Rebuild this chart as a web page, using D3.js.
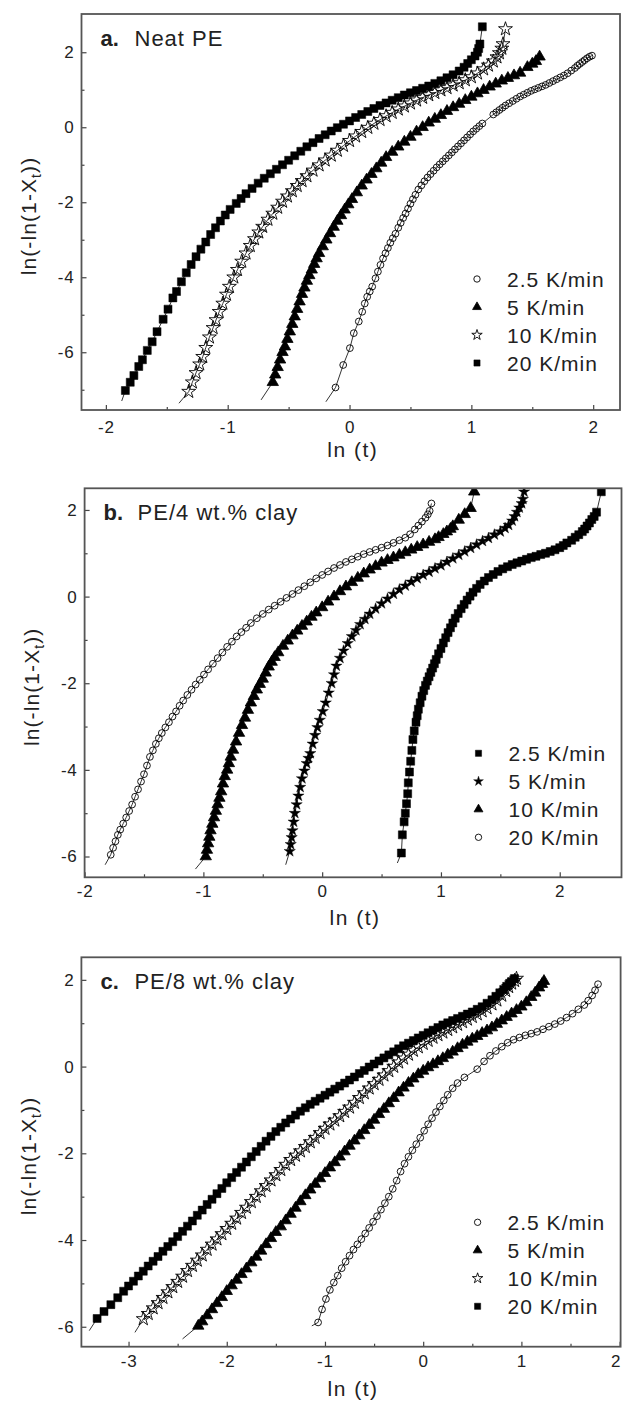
<!DOCTYPE html>
<html>
<head>
<meta charset="utf-8">
<script src="https://cdn.jsdelivr.net/npm/d3@7"></script>
<style>
  body { margin: 0; background: #fff; }
  text { font-family: Arial, "Liberation Sans", sans-serif; fill: #222; }
</style>
</head>
<body>
<svg id="chart" width="623" height="1405"></svg>
<script>
// Avrami plots, ln(-ln(1-Xt)) vs ln(t)

const rates = ["2.5 K/min", "5 K/min", "10 K/min", "20 K/min"];

// ---- a. Neat PE ----
const a25 = [[-0.115,-6.94],[-0.052,-6.34],[0.003,-5.89],[0.035,-5.49],[0.076,-5.18],[0.104,-4.92],[0.125,-4.7],[0.145,-4.52],[0.166,-4.38],[0.186,-4.25],[0.213,-4.03],[0.233,-3.85],[0.254,-3.67],[0.275,-3.5],[0.295,-3.36],[0.315,-3.22],[0.335,-3.08],[0.355,-2.96],[0.377,-2.84],[0.40,-2.68],[0.42,-2.55],[0.44,-2.42],[0.46,-2.3],[0.48,-2.17],[0.50,-2.04],[0.52,-1.92],[0.541,-1.8],[0.565,-1.66],[0.59,-1.55],[0.615,-1.44],[0.64,-1.34],[0.665,-1.25],[0.69,-1.16],[0.715,-1.07],[0.74,-0.99],[0.765,-0.91],[0.79,-0.83],[0.815,-0.75],[0.84,-0.67],[0.865,-0.59],[0.89,-0.51],[0.915,-0.43],[0.94,-0.35],[0.965,-0.27],[0.99,-0.19],[1.015,-0.11],[1.04,-0.04],[1.065,0.03],[1.09,0.1],[1.18,0.34],[1.205,0.4],[1.23,0.46],[1.255,0.52],[1.28,0.58],[1.31,0.64],[1.34,0.7],[1.37,0.76],[1.40,0.82],[1.43,0.87],[1.46,0.92],[1.49,0.97],[1.52,1.01],[1.55,1.05],[1.58,1.09],[1.61,1.13],[1.64,1.18],[1.67,1.23],[1.70,1.28],[1.73,1.33],[1.76,1.38],[1.79,1.44],[1.82,1.51],[1.85,1.58],[1.87,1.64],[1.89,1.69],[1.91,1.74],[1.93,1.79],[1.95,1.84],[1.97,1.88],[1.99,1.91]];
const a5 = [[-0.63,-6.8],[-0.61,-6.6],[-0.59,-6.4],[-0.57,-6.2],[-0.55,-6.0],[-0.53,-5.85],[-0.51,-5.65],[-0.49,-5.45],[-0.47,-5.25],[-0.45,-5.05],[-0.43,-4.85],[-0.41,-4.65],[-0.39,-4.45],[-0.37,-4.28],[-0.35,-4.1],[-0.33,-3.95],[-0.31,-3.8],[-0.29,-3.65],[-0.27,-3.5],[-0.25,-3.36],[-0.22,-3.18],[-0.19,-3.0],[-0.16,-2.83],[-0.13,-2.66],[-0.10,-2.5],[-0.07,-2.35],[-0.04,-2.2],[-0.01,-2.06],[0.02,-1.92],[0.06,-1.74],[0.10,-1.56],[0.14,-1.4],[0.18,-1.25],[0.22,-1.1],[0.26,-0.95],[0.30,-0.8],[0.35,-0.66],[0.40,-0.52],[0.45,-0.39],[0.50,-0.26],[0.55,-0.12],[0.60,0.0],[0.65,0.12],[0.70,0.22],[0.75,0.32],[0.80,0.43],[0.85,0.53],[0.90,0.62],[0.95,0.72],[1.0,0.81],[1.05,0.9],[1.10,0.99],[1.15,1.08],[1.20,1.16],[1.25,1.24],[1.30,1.31],[1.35,1.38],[1.40,1.45],[1.46,1.6],[1.50,1.69],[1.53,1.76],[1.56,1.88]];
const a10 = [[-1.32,-7.05],[-1.29,-6.8],[-1.26,-6.55],[-1.23,-6.32],[-1.205,-6.12],[-1.18,-5.88],[-1.15,-5.6],[-1.12,-5.35],[-1.096,-5.14],[-1.07,-4.92],[-1.04,-4.7],[-1.01,-4.46],[-0.986,-4.25],[-0.95,-4.0],[-0.92,-3.8],[-0.885,-3.58],[-0.85,-3.36],[-0.815,-3.16],[-0.78,-2.98],[-0.745,-2.8],[-0.713,-2.65],[-0.67,-2.46],[-0.63,-2.3],[-0.59,-2.14],[-0.55,-1.98],[-0.51,-1.84],[-0.47,-1.7],[-0.43,-1.56],[-0.39,-1.43],[-0.35,-1.3],[-0.30,-1.15],[-0.25,-1.01],[-0.20,-0.88],[-0.15,-0.75],[-0.10,-0.62],[-0.05,-0.49],[0.0,-0.36],[0.05,-0.24],[0.10,-0.12],[0.15,-0.01],[0.20,0.1],[0.25,0.2],[0.30,0.3],[0.35,0.39],[0.40,0.48],[0.45,0.56],[0.50,0.64],[0.55,0.72],[0.60,0.79],[0.65,0.86],[0.70,0.92],[0.75,0.99],[0.80,1.05],[0.85,1.12],[0.90,1.18],[0.95,1.26],[1.0,1.34],[1.05,1.44],[1.10,1.55],[1.14,1.65],[1.18,1.76],[1.21,1.87],[1.23,1.98],[1.25,2.1],[1.26,2.22],[1.28,2.62]];
const a20 = [[-1.84,-7.02],[-1.80,-6.8],[-1.77,-6.62],[-1.73,-6.38],[-1.70,-6.2],[-1.66,-5.95],[-1.62,-5.72],[-1.58,-5.45],[-1.53,-5.12],[-1.49,-4.85],[-1.45,-4.55],[-1.42,-4.38],[-1.38,-4.12],[-1.34,-3.88],[-1.30,-3.66],[-1.26,-3.45],[-1.22,-3.25],[-1.18,-3.06],[-1.14,-2.86],[-1.10,-2.68],[-1.06,-2.5],[-1.02,-2.34],[-0.98,-2.19],[-0.93,-2.03],[-0.89,-1.9],[-0.85,-1.77],[-0.80,-1.63],[-0.75,-1.49],[-0.70,-1.36],[-0.65,-1.24],[-0.60,-1.12],[-0.55,-1.0],[-0.50,-0.88],[-0.45,-0.76],[-0.40,-0.64],[-0.35,-0.52],[-0.30,-0.41],[-0.25,-0.3],[-0.20,-0.2],[-0.15,-0.1],[-0.10,-0.01],[-0.05,0.08],[0.0,0.17],[0.05,0.26],[0.10,0.34],[0.15,0.42],[0.20,0.5],[0.25,0.58],[0.30,0.65],[0.35,0.72],[0.40,0.79],[0.45,0.86],[0.50,0.92],[0.55,0.98],[0.60,1.04],[0.65,1.1],[0.70,1.17],[0.75,1.24],[0.80,1.32],[0.85,1.4],[0.90,1.5],[0.94,1.6],[0.97,1.7],[1.00,1.8],[1.03,1.9],[1.05,2.0],[1.06,2.1],[1.07,2.22],[1.09,2.68]];
// where the fitted lines start, below the first point
const aFitStart = [[-0.194,-7.32],[-0.726,-7.27],[-1.40,-7.36],[-1.87,-7.3]];

// ---- b. PE/4 wt.% clay ----
const b25 = [[0.667,-5.92],[0.675,-5.5],[0.69,-5.2],[0.70,-5.0],[0.71,-4.78],[0.72,-4.55],[0.725,-4.3],[0.735,-4.05],[0.745,-3.8],[0.755,-3.55],[0.764,-3.3],[0.775,-3.1],[0.79,-2.9],[0.80,-2.75],[0.81,-2.6],[0.825,-2.45],[0.84,-2.3],[0.855,-2.17],[0.87,-2.05],[0.885,-1.95],[0.90,-1.85],[0.915,-1.75],[0.93,-1.65],[0.945,-1.55],[0.96,-1.45],[0.98,-1.32],[1.0,-1.2],[1.02,-1.07],[1.04,-0.95],[1.06,-0.83],[1.08,-0.72],[1.10,-0.61],[1.12,-0.5],[1.145,-0.39],[1.17,-0.28],[1.195,-0.18],[1.22,-0.08],[1.245,0.01],[1.27,0.1],[1.30,0.19],[1.33,0.28],[1.365,0.36],[1.40,0.44],[1.44,0.51],[1.48,0.58],[1.52,0.64],[1.56,0.69],[1.60,0.74],[1.64,0.78],[1.68,0.82],[1.72,0.86],[1.76,0.9],[1.80,0.93],[1.84,0.97],[1.88,1.0],[1.92,1.04],[1.96,1.08],[2.0,1.13],[2.03,1.18],[2.06,1.24],[2.10,1.3],[2.13,1.37],[2.16,1.43],[2.19,1.5],[2.21,1.56],[2.23,1.63],[2.25,1.7],[2.27,1.78],[2.29,1.85],[2.31,1.95],[2.35,2.42]];
const b5 = [[-0.273,-5.88],[-0.265,-5.72],[-0.257,-5.56],[-0.25,-5.4],[-0.24,-5.2],[-0.23,-5.0],[-0.215,-4.8],[-0.2,-4.6],[-0.185,-4.4],[-0.17,-4.2],[-0.15,-4.02],[-0.13,-3.85],[-0.115,-3.73],[-0.1,-3.62],[-0.08,-3.4],[-0.06,-3.2],[-0.04,-3.02],[-0.02,-2.85],[0.005,-2.65],[0.03,-2.45],[0.055,-2.22],[0.08,-2.0],[0.10,-1.8],[0.12,-1.6],[0.15,-1.42],[0.18,-1.25],[0.215,-1.08],[0.25,-0.92],[0.285,-0.78],[0.32,-0.64],[0.36,-0.52],[0.40,-0.4],[0.45,-0.28],[0.50,-0.16],[0.55,-0.05],[0.60,0.06],[0.65,0.16],[0.70,0.25],[0.75,0.34],[0.80,0.42],[0.85,0.5],[0.90,0.57],[0.95,0.65],[1.0,0.72],[1.05,0.8],[1.10,0.88],[1.15,0.96],[1.20,1.04],[1.25,1.12],[1.30,1.2],[1.35,1.28],[1.40,1.35],[1.45,1.43],[1.50,1.5],[1.54,1.58],[1.57,1.65],[1.60,1.75],[1.62,1.85],[1.64,1.95],[1.66,2.05],[1.68,2.15],[1.69,2.25],[1.70,2.42]];
const b10 = [[-0.98,-6.0],[-0.97,-5.85],[-0.96,-5.7],[-0.95,-5.55],[-0.94,-5.4],[-0.925,-5.25],[-0.91,-5.1],[-0.895,-4.95],[-0.88,-4.8],[-0.865,-4.65],[-0.85,-4.5],[-0.835,-4.32],[-0.82,-4.15],[-0.80,-4.0],[-0.785,-3.85],[-0.77,-3.7],[-0.75,-3.54],[-0.725,-3.35],[-0.70,-3.15],[-0.675,-2.97],[-0.65,-2.8],[-0.625,-2.62],[-0.60,-2.45],[-0.575,-2.3],[-0.55,-2.15],[-0.525,-2.02],[-0.50,-1.9],[-0.475,-1.76],[-0.45,-1.62],[-0.425,-1.51],[-0.40,-1.4],[-0.37,-1.29],[-0.33,-1.14],[-0.29,-1.02],[-0.25,-0.9],[-0.21,-0.79],[-0.17,-0.68],[-0.13,-0.58],[-0.09,-0.47],[-0.05,-0.37],[0.0,-0.25],[0.05,-0.12],[0.10,0.0],[0.15,0.12],[0.20,0.23],[0.25,0.33],[0.30,0.43],[0.35,0.53],[0.40,0.62],[0.45,0.7],[0.50,0.78],[0.55,0.84],[0.60,0.9],[0.65,0.96],[0.70,1.02],[0.75,1.08],[0.80,1.14],[0.85,1.2],[0.90,1.26],[0.95,1.32],[0.98,1.37],[1.02,1.44],[1.05,1.5],[1.08,1.56],[1.10,1.62],[1.15,1.77],[1.20,1.9],[1.25,2.04],[1.28,2.42]];
const b20 = [[-1.78,-5.96],[-1.76,-5.8],[-1.74,-5.65],[-1.72,-5.5],[-1.70,-5.38],[-1.675,-5.24],[-1.65,-5.1],[-1.625,-4.95],[-1.60,-4.8],[-1.575,-4.62],[-1.55,-4.45],[-1.525,-4.27],[-1.50,-4.1],[-1.475,-3.9],[-1.45,-3.7],[-1.425,-3.55],[-1.40,-3.4],[-1.375,-3.27],[-1.35,-3.15],[-1.32,-3.02],[-1.29,-2.9],[-1.26,-2.77],[-1.23,-2.65],[-1.20,-2.52],[-1.17,-2.4],[-1.135,-2.27],[-1.10,-2.15],[-1.065,-2.03],[-1.03,-1.92],[-0.995,-1.8],[-0.96,-1.68],[-0.92,-1.55],[-0.88,-1.42],[-0.84,-1.29],[-0.80,-1.16],[-0.76,-1.04],[-0.72,-0.92],[-0.68,-0.82],[-0.64,-0.72],[-0.60,-0.61],[-0.55,-0.5],[-0.50,-0.4],[-0.45,-0.3],[-0.40,-0.21],[-0.35,-0.12],[-0.30,-0.03],[-0.25,0.06],[-0.20,0.15],[-0.15,0.24],[-0.10,0.33],[-0.05,0.42],[0.0,0.5],[0.05,0.58],[0.10,0.66],[0.15,0.73],[0.20,0.8],[0.25,0.86],[0.30,0.92],[0.35,0.98],[0.40,1.03],[0.45,1.08],[0.50,1.13],[0.55,1.18],[0.60,1.24],[0.65,1.3],[0.70,1.36],[0.74,1.44],[0.78,1.55],[0.81,1.64],[0.84,1.73],[0.87,1.82],[0.89,1.9],[0.905,1.98],[0.92,2.15]];
const bFitStart = [[0.633,-6.15],[-0.307,-6.19],[-1.067,-6.29],[-1.827,-6.19]];

// ---- c. PE/8 wt.% clay ----
const c25 = [[-1.07,-5.9],[-1.03,-5.6],[-0.99,-5.36],[-0.95,-5.15],[-0.91,-4.98],[-0.87,-4.82],[-0.83,-4.65],[-0.79,-4.5],[-0.75,-4.36],[-0.71,-4.22],[-0.67,-4.1],[-0.63,-3.98],[-0.59,-3.85],[-0.55,-3.72],[-0.51,-3.58],[-0.47,-3.45],[-0.43,-3.3],[-0.39,-3.15],[-0.35,-3.0],[-0.31,-2.82],[-0.27,-2.63],[-0.23,-2.42],[-0.19,-2.24],[-0.15,-2.08],[-0.11,-1.93],[-0.07,-1.79],[-0.03,-1.64],[0.01,-1.48],[0.05,-1.33],[0.09,-1.19],[0.13,-1.05],[0.17,-0.92],[0.21,-0.78],[0.25,-0.65],[0.30,-0.5],[0.35,-0.38],[0.42,-0.25],[0.55,-0.06],[0.62,0.12],[0.68,0.25],[0.74,0.36],[0.80,0.46],[0.86,0.55],[0.92,0.62],[0.98,0.67],[1.04,0.72],[1.10,0.76],[1.16,0.8],[1.22,0.86],[1.28,0.92],[1.34,0.98],[1.40,1.05],[1.46,1.13],[1.52,1.22],[1.58,1.32],[1.64,1.42],[1.68,1.52],[1.72,1.64],[1.75,1.76],[1.78,1.9]];
const c5 = [[-2.29,-5.98],[-2.25,-5.88],[-2.2,-5.74],[-2.15,-5.6],[-2.1,-5.46],[-2.05,-5.32],[-2.0,-5.18],[-1.95,-5.05],[-1.9,-4.92],[-1.85,-4.79],[-1.8,-4.66],[-1.75,-4.52],[-1.7,-4.39],[-1.65,-4.25],[-1.6,-4.1],[-1.55,-3.96],[-1.5,-3.82],[-1.45,-3.69],[-1.4,-3.55],[-1.35,-3.4],[-1.3,-3.26],[-1.25,-3.11],[-1.2,-2.97],[-1.15,-2.84],[-1.1,-2.71],[-1.05,-2.58],[-1.0,-2.46],[-0.95,-2.33],[-0.9,-2.21],[-0.85,-2.08],[-0.8,-1.96],[-0.75,-1.83],[-0.7,-1.71],[-0.65,-1.59],[-0.6,-1.47],[-0.55,-1.35],[-0.5,-1.23],[-0.45,-1.1],[-0.4,-0.98],[-0.35,-0.85],[-0.3,-0.73],[-0.25,-0.6],[-0.2,-0.49],[-0.15,-0.38],[-0.1,-0.28],[-0.05,-0.18],[0.0,-0.1],[0.05,-0.02],[0.1,0.05],[0.15,0.12],[0.2,0.19],[0.25,0.27],[0.3,0.34],[0.35,0.42],[0.4,0.5],[0.45,0.57],[0.5,0.64],[0.55,0.7],[0.6,0.77],[0.65,0.83],[0.7,0.9],[0.75,0.98],[0.8,1.06],[0.85,1.14],[0.9,1.22],[0.95,1.3],[1.0,1.38],[1.05,1.48],[1.1,1.6],[1.14,1.7],[1.18,1.82],[1.21,1.9],[1.23,1.97]];
const c10 = [[-2.85,-5.82],[-2.8,-5.7],[-2.75,-5.57],[-2.7,-5.45],[-2.65,-5.33],[-2.6,-5.2],[-2.55,-5.08],[-2.5,-4.96],[-2.45,-4.84],[-2.4,-4.71],[-2.35,-4.59],[-2.3,-4.47],[-2.25,-4.35],[-2.2,-4.22],[-2.15,-4.1],[-2.1,-3.98],[-2.05,-3.86],[-2.0,-3.74],[-1.95,-3.62],[-1.9,-3.5],[-1.85,-3.37],[-1.8,-3.25],[-1.75,-3.12],[-1.7,-3.0],[-1.65,-2.87],[-1.6,-2.75],[-1.55,-2.62],[-1.5,-2.5],[-1.45,-2.38],[-1.4,-2.26],[-1.35,-2.15],[-1.3,-2.05],[-1.25,-1.95],[-1.2,-1.85],[-1.15,-1.74],[-1.1,-1.64],[-1.05,-1.53],[-1.0,-1.43],[-0.95,-1.33],[-0.9,-1.24],[-0.85,-1.14],[-0.8,-1.04],[-0.75,-0.94],[-0.7,-0.83],[-0.65,-0.72],[-0.6,-0.61],[-0.55,-0.5],[-0.5,-0.4],[-0.45,-0.3],[-0.4,-0.2],[-0.35,-0.1],[-0.3,0.0],[-0.25,0.1],[-0.2,0.19],[-0.15,0.28],[-0.1,0.37],[-0.05,0.45],[0.0,0.53],[0.05,0.6],[0.1,0.67],[0.15,0.73],[0.2,0.79],[0.25,0.85],[0.3,0.91],[0.35,0.97],[0.4,1.03],[0.45,1.09],[0.5,1.15],[0.55,1.21],[0.6,1.28],[0.65,1.35],[0.7,1.44],[0.75,1.53],[0.8,1.64],[0.84,1.75],[0.87,1.84],[0.9,1.92],[0.93,1.98],[0.95,2.03]];
const c20 = [[-3.32,-5.81],[-3.25,-5.65],[-3.18,-5.49],[-3.11,-5.33],[-3.05,-5.18],[-3.0,-5.06],[-2.95,-4.95],[-2.9,-4.83],[-2.85,-4.72],[-2.8,-4.6],[-2.75,-4.49],[-2.7,-4.38],[-2.65,-4.26],[-2.6,-4.15],[-2.55,-4.04],[-2.5,-3.92],[-2.45,-3.8],[-2.4,-3.68],[-2.35,-3.56],[-2.3,-3.43],[-2.25,-3.31],[-2.2,-3.18],[-2.15,-3.06],[-2.1,-2.93],[-2.05,-2.81],[-2.0,-2.68],[-1.95,-2.56],[-1.9,-2.44],[-1.85,-2.32],[-1.8,-2.2],[-1.75,-2.08],[-1.7,-1.96],[-1.65,-1.84],[-1.6,-1.72],[-1.55,-1.61],[-1.5,-1.5],[-1.45,-1.4],[-1.4,-1.3],[-1.35,-1.21],[-1.3,-1.12],[-1.25,-1.03],[-1.2,-0.95],[-1.15,-0.87],[-1.1,-0.8],[-1.05,-0.73],[-1.0,-0.66],[-0.95,-0.59],[-0.9,-0.52],[-0.85,-0.45],[-0.8,-0.38],[-0.75,-0.31],[-0.7,-0.24],[-0.65,-0.16],[-0.6,-0.09],[-0.55,-0.01],[-0.5,0.06],[-0.45,0.13],[-0.4,0.2],[-0.35,0.27],[-0.3,0.34],[-0.25,0.41],[-0.2,0.48],[-0.15,0.54],[-0.1,0.6],[-0.05,0.66],[0.0,0.72],[0.05,0.78],[0.1,0.84],[0.15,0.9],[0.2,0.96],[0.25,1.01],[0.3,1.06],[0.35,1.11],[0.4,1.16],[0.45,1.21],[0.5,1.26],[0.55,1.32],[0.6,1.38],[0.65,1.46],[0.7,1.54],[0.74,1.62],[0.78,1.7],[0.82,1.78],[0.85,1.85],[0.88,1.92],[0.9,1.96],[0.93,2.03]];
const cFitStart = [[-1.134,-5.98],[-2.45,-6.28],[-2.935,-6.13],[-3.40,-6.09]];

// panel layout
const panels = [
  { tag: "a.", name: "Neat PE", box: { left: 81.5, right: 620, top: 14, bottom: 410 },
    xDomain: [-2.2, 2.22], yDomain: [-7.54, 3.02],
    xTicks: [-2, -1, 0, 1, 2], xMinor: [-1.5, -0.5, 0.5, 1.5],
    yTicks: [-6, -4, -2, 0, 2], yMinor: [-7, -5, -3, -1, 1],
    tickPad: 11, titleGap: 47,
    series: [
      { label: rates[0], shape: "circle", pts: a25, start: aFitStart[0] },
      { label: rates[1], shape: "triangle", pts: a5, start: aFitStart[1] },
      { label: rates[2], shape: "starOpen", pts: a10, start: aFitStart[2] },
      { label: rates[3], shape: "square", pts: a20, start: aFitStart[3] }
    ] },
  { tag: "b.", name: "PE/4 wt.% clay", box: { left: 84.6, right: 621.5, top: 488.3, bottom: 877.3 },
    xDomain: [-2, 2.52], yDomain: [-6.48, 2.5],
    xTicks: [-2, -1, 0, 1, 2], xMinor: [-1.5, -0.5, 0.5, 1.5],
    yTicks: [-6, -4, -2, 0, 2], yMinor: [-5, -3, -1, 1],
    tickPad: 8, titleGap: 48,
    series: [
      { label: rates[0], shape: "square", pts: b25, start: bFitStart[0] },
      { label: rates[1], shape: "starFilled", pts: b5, start: bFitStart[1] },
      { label: rates[2], shape: "triangle", pts: b10, start: bFitStart[2] },
      { label: rates[3], shape: "circle", pts: b20, start: bFitStart[3] }
    ] },
  { tag: "c.", name: "PE/8 wt.% clay", box: { left: 81.4, right: 620.6, top: 957.3, bottom: 1346.7 },
    xDomain: [-3.48, 2.01], yDomain: [-6.46, 2.52],
    xTicks: [-3, -2, -1, 0, 1, 2], xMinor: [-2.5, -1.5, -0.5, 0.5, 1.5],
    yTicks: [-6, -4, -2, 0, 2], yMinor: [-5, -3, -1, 1],
    tickPad: 8, titleGap: 49,
    series: [
      { label: rates[0], shape: "circle", pts: c25, start: cFitStart[0] },
      { label: rates[1], shape: "triangle", pts: c5, start: cFitStart[1] },
      { label: rates[2], shape: "starOpen", pts: c10, start: cFitStart[2] },
      { label: rates[3], shape: "square", pts: c20, start: cFitStart[3] }
    ] }
];

// marker styles; plot markers are bigger than legend ones so the dense runs merge into bands
const shapes = {
  circle:     { type: d3.symbolCircle,   size: 36, legend: 32, fill: "none", stroke: "#000", sw: 0.9 },
  triangle:   { type: d3.symbolTriangle, size: 56, legend: 34, fill: "#000", stroke: "#000", sw: 0.8 },
  square:     { type: d3.symbolSquare,   size: 64, legend: 38, fill: "#000", stroke: "#000", sw: 0.5 },
  starOpen:   { type: d3.symbolStar,     size: 60, legend: 34, fill: "none", stroke: "#000", sw: 0.9 },
  starFilled: { type: d3.symbolStar,     size: 40, legend: 30, fill: "#000", stroke: "#000", sw: 0.4 }
};

const svg = d3.select("#chart");
const fmt = d => String(d);

panels.forEach(p => {
  const b = p.box;
  const x = d3.scaleLinear().domain(p.xDomain).range([b.left, b.right]);
  const y = d3.scaleLinear().domain(p.yDomain).range([b.bottom, b.top]);
  const g = svg.append("g");

  // data: thin line first, then markers
  const clipId = "clip" + p.tag[0];
  svg.append("clipPath").attr("id", clipId).append("rect")
    .attr("x", b.left).attr("y", b.top)
    .attr("width", b.right - b.left).attr("height", b.bottom - b.top);
  const plot = g.append("g").attr("clip-path", `url(#${clipId})`);
  const line = d3.line().x(d => x(d[0])).y(d => y(d[1]));

  p.series.forEach(s => {
    plot.append("path")
      .datum([s.start].concat(s.pts))
      .attr("d", line)
      .attr("fill", "none")
      .attr("stroke", "#000")
      .attr("stroke-width", 0.8);
    const sh = shapes[s.shape];
    plot.append("g").selectAll("path")
      .data(s.pts)
      .join("path")
      .attr("transform", d => `translate(${x(d[0])},${y(d[1])})`)
      .attr("d", d3.symbol().type(sh.type).size(sh.size))
      .attr("fill", sh.fill)
      .attr("stroke", sh.stroke)
      .attr("stroke-width", sh.sw);
  });

  // axes, ticks point inward
  const xAxis = g.append("g").attr("transform", `translate(0,${b.bottom})`)
    .call(d3.axisBottom(x).tickValues(p.xTicks).tickFormat(fmt).tickSizeInner(-5).tickSizeOuter(0).tickPadding(p.tickPad));
  g.append("g").attr("transform", `translate(0,${b.bottom})`)
    .call(d3.axisBottom(x).tickValues(p.xMinor).tickFormat("").tickSizeInner(-3).tickSizeOuter(0));
  g.append("g").attr("transform", `translate(${b.left},0)`)
    .call(d3.axisLeft(y).tickValues(p.yTicks).tickFormat(fmt).tickSizeInner(-5).tickSizeOuter(0).tickPadding(7));
  g.append("g").attr("transform", `translate(${b.left},0)`)
    .call(d3.axisLeft(y).tickValues(p.yMinor).tickFormat("").tickSizeInner(-3).tickSizeOuter(0));

  g.selectAll(".domain").remove();
  g.selectAll(".tick line").attr("stroke", "#444").attr("stroke-width", 1.2);
  g.selectAll(".tick text").attr("font-size", 17).attr("fill", "#222")
    .attr("font-family", "Arial, 'Liberation Sans', sans-serif").attr("letter-spacing", 0.8);
  // last x label sits against the page edge, as in the original
  xAxis.selectAll(".tick text").filter(d => x(d) > 612).attr("dx", -4);

  // frame
  g.append("rect")
    .attr("x", b.left).attr("y", b.top)
    .attr("width", b.right - b.left).attr("height", b.bottom - b.top)
    .attr("fill", "none").attr("stroke", "#555").attr("stroke-width", 1.8);

  // axis titles
  g.append("text")
    .attr("x", (b.left + b.right) / 2 + 2)
    .attr("y", b.bottom + p.titleGap)
    .attr("text-anchor", "middle")
    .attr("font-size", 21).attr("letter-spacing", 1.5)
    .text("ln (t)");

  const yt = g.append("text")
    .attr("transform", `translate(${b.left - 53},${(b.top + b.bottom) / 2 + 4}) rotate(-90)`)
    .attr("text-anchor", "middle")
    .attr("dy", "0.35em")
    .attr("font-size", 21).attr("letter-spacing", 1.1);
  yt.append("tspan").text("ln(-ln(1-X");
  yt.append("tspan").attr("font-size", 14).attr("dy", 5).text("t");
  yt.append("tspan").attr("dy", -5).text("))");

  // panel label
  g.append("text")
    .attr("x", b.left + 19).attr("y", b.top + 32)
    .attr("font-family", "'Liberation Serif', 'DejaVu Serif', serif")
    .attr("font-weight", "bold").attr("font-size", 22)
    .text(p.tag);
  g.append("text")
    .attr("x", b.left + 53).attr("y", b.top + 32)
    .attr("font-size", 22).attr("letter-spacing", 1)
    .text(p.name);

  // legend
  const leg = g.append("g");
  p.series.forEach((s, i) => {
    const cy = b.top + 265 + i * 28;
    const sh = shapes[s.shape];
    leg.append("path")
      .attr("transform", `translate(${b.right - 143},${cy})`)
      .attr("d", d3.symbol().type(sh.type).size(sh.legend))
      .attr("fill", sh.fill).attr("stroke", sh.stroke).attr("stroke-width", sh.sw);
    leg.append("text")
      .attr("x", b.right - 113).attr("y", cy + 7.5)
      .attr("font-size", 21).attr("letter-spacing", 1)
      .text(s.label);
  });
});
</script>
</body>
</html>
